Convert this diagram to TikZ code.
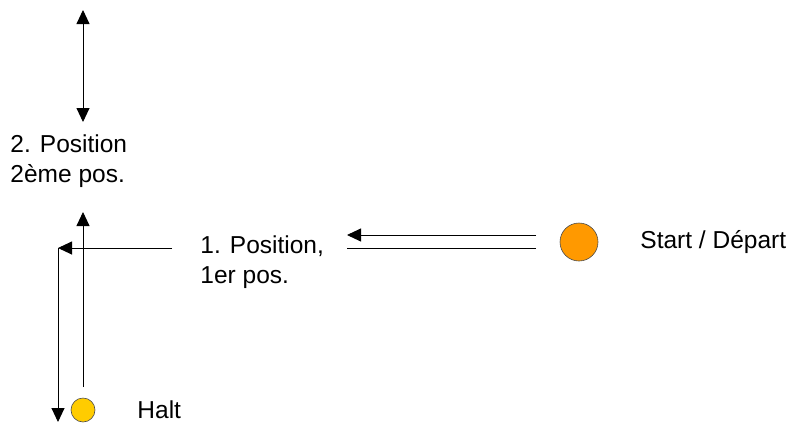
\documentclass[tikz,border=0pt]{standalone}
\usepackage{fontspec}
\setmainfont{Liberation Sans}
\usetikzlibrary{arrows.meta}

\tikzset{
  label/.style={inner sep=0pt, anchor=west, align=left, font=\fontsize{24.5}{30.5}\selectfont},
  dot/.style={circle, draw=black!70, line width=0.6pt, inner sep=0pt},
}

\begin{document}
\begin{tikzpicture}[x=1pt,y=-1pt,>={Triangle[length=14pt,width=13pt]},line width=0.9pt]
  \useasboundingbox (0,0) rectangle (791,423);
  % points
  \coordinate (top1) at (83,10);
  \coordinate (top2) at (83,122);
  \coordinate (up1) at (83,387);
  \coordinate (up2) at (83,212);
  \coordinate (h1) at (172,248);
  \coordinate (corner) at (58,248);
  \coordinate (down) at (58,422);
  \coordinate (s1) at (536,235);
  \coordinate (s2) at (347,235);
  \coordinate (s3) at (536,248);
  \coordinate (s4) at (347,248);
  % texts and markers
  \node[label] (pos2) at (10,161) {2. Position\\2ème pos.};
  \node[label] (pos1) at (200,262) {1. Position,\\1er pos.};
  \node[dot, fill={rgb,255:red,255;green,153;blue,0}, minimum size=38pt] (start) at (579,242) {};
  \node[label] (starttext) at (640,242) {Start / Départ};
  \node[dot, fill={rgb,255:red,255;green,204;blue,0}, minimum size=24pt] (halt) at (83,410) {};
  \node[label] (halttext) at (137,410) {Halt};
  % arrows
  \draw[<->] (top1) -- (top2);
  \draw[->] (s1) -- (s2);
  \draw (s3) -- (s4);
  \draw[->] (h1) -- (corner);
  \draw[->] (corner) -- (down);
  \draw[->] (up1) -- (up2);
\end{tikzpicture}
\end{document}
